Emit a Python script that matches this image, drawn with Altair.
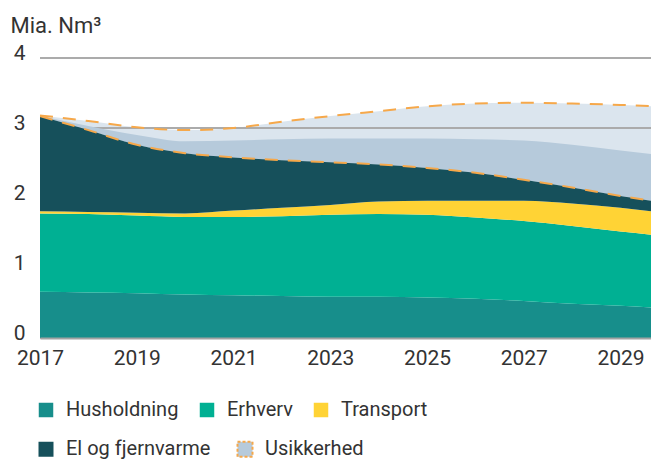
import altair as alt
import pandas as pd

# ---- data (Mia. Nm³) ----
years = list(range(2017, 2031))
husholdning = [0.66, 0.65, 0.64, 0.62, 0.61, 0.60, 0.59, 0.59, 0.58, 0.56, 0.53, 0.49, 0.46, 0.42]
erhverv = [1.12, 1.12, 1.11, 1.11, 1.12, 1.14, 1.17, 1.18, 1.18, 1.16, 1.14, 1.11, 1.06, 1.03]
transport = [0.03, 0.03, 0.04, 0.05, 0.09, 0.12, 0.14, 0.18, 0.20, 0.24, 0.29, 0.32, 0.34, 0.33]
el_fjernvarme = [1.36, 1.17, 0.97, 0.86, 0.76, 0.68, 0.61, 0.53, 0.47, 0.40, 0.30, 0.23, 0.17, 0.14]
# uncertainty band (cumulative levels)
usikkerhed_mid = [3.17, 3.03, 2.90, 2.81, 2.82, 2.84, 2.85, 2.85, 2.85, 2.84, 2.82, 2.76, 2.68, 2.60]
usikkerhed_hoej = [3.18, 3.10, 3.01, 2.97, 3.00, 3.09, 3.17, 3.24, 3.31, 3.35, 3.36, 3.35, 3.33, 3.30]

series = ["Husholdning", "Erhverv", "Transport", "El og fjernvarme"]
series_colors = ["#178e8b", "#00b093", "#ffd335", "#16505b"]
band_names = ["El og fjernvarme", "Usikkerhed", "lys"]
band_colors = ["#16505b", "#b6cadb", "#dbe5ee"]
x_ticks = [2017, 2019, 2021, 2023, 2025, 2027, 2029]
y_ticks = [0, 1, 2, 3, 4]

FONT = "Roboto"
TEXT = "#333333"
ORANGE = "#f6a84a"

# ---- tables ----
rows = []
for i, yr in enumerate(years):
    for k, (name, vals) in enumerate(zip(series, [husholdning, erhverv, transport, el_fjernvarme])):
        rows.append({"year": yr, "serie": name, "value": vals[i], "order": k})
stack_df = pd.DataFrame(rows)

total = [h + e + t + l for h, e, t, l in zip(husholdning, erhverv, transport, el_fjernvarme)]
band_df = pd.DataFrame({"year": years, "low": total, "mid": usikkerhed_mid, "high": usikkerhed_hoej})
line_df = pd.concat([
    pd.DataFrame({"year": years, "lvl": total, "line": "lav"}),
    pd.DataFrame({"year": years, "lvl": usikkerhed_hoej, "line": "hoej"}),
])
grid_df = pd.DataFrame({"v": y_ticks})

x_scale = alt.Scale(domain=[2017, 2029.63], nice=False, zero=False)
y_scale = alt.Scale(domain=[0, 4], nice=False)
x_axis = alt.Axis(values=x_ticks, format="d", grid=False, ticks=False, domain=True,
                  domainColor="#a3a3a3", domainWidth=2, labelFontSize=21, labelFont=FONT,
                  labelColor=TEXT, labelPadding=9, title=None, zindex=1, labelFlush=False)
y_axis = alt.Axis(values=y_ticks, grid=False, ticks=False, domain=False, labelFontSize=21,
                  labelFont=FONT, labelColor=TEXT, labelPadding=15, labelBaseline="alphabetic",
                  labelOffset=1, title="Mia. Nm³", titleAngle=0, titleX=-30, titleY=-26,
                  titleAlign="left", titleBaseline="alphabetic", titleFont=FONT,
                  titleFontSize=22, titleFontWeight="normal", titleColor=TEXT)

X = alt.X("year:Q", scale=x_scale, axis=x_axis)

legend_common = dict(title=None, orient="none", direction="horizontal", symbolType="square",
                     labelFontSize=20, labelFont=FONT, labelColor=TEXT, labelOffset=10,
                     padding=0)

row2_legend = alt.Legend(legendX=-4, legendY=381, values=["El og fjernvarme", "Usikkerhed"],
                         symbolSize=225,
                         symbolStrokeColor=alt.ExprRef(
                             expr="datum.value === 'Usikkerhed' ? '#f6a84a' : 'transparent'"),
                         symbolStrokeWidth=2, symbolDash=[3, 2], columnPadding=22,
                         **legend_common)
fill_scale = alt.Scale(domain=band_names, range=band_colors)

light_band = alt.Chart(band_df).transform_calculate(band="'lys'").mark_area(
    interpolate="monotone", clip=True).encode(
    x=X,
    y=alt.Y("low:Q", scale=y_scale, axis=y_axis),
    y2="high:Q",
    fill=alt.Fill("band:N", scale=fill_scale, legend=row2_legend),
)

grid = alt.Chart(grid_df).mark_rule(color="#ababab", strokeWidth=2).encode(
    y=alt.Y("v:Q", scale=y_scale, axis=y_axis)
)

dark_band = alt.Chart(band_df).transform_calculate(band="'Usikkerhed'").mark_area(
    interpolate="monotone", clip=True).encode(
    x=X,
    y=alt.Y("low:Q", scale=y_scale, axis=y_axis),
    y2="mid:Q",
    fill=alt.Fill("band:N", scale=fill_scale, legend=row2_legend),
)

stacked = alt.Chart(stack_df).mark_area(interpolate="monotone", clip=True).encode(
    x=X,
    y=alt.Y("value:Q", stack="zero", scale=y_scale, axis=y_axis),
    color=alt.Color("serie:N", scale=alt.Scale(domain=series, range=series_colors),
                    legend=alt.Legend(legendX=-4, legendY=342, values=series[:3],
                                      symbolSize=210, symbolStrokeWidth=0, columnPadding=18,
                                      **legend_common)),
    order=alt.Order("order:Q"),
)

dashes = alt.Chart(line_df).mark_line(interpolate="monotone", color=ORANGE, strokeWidth=2,
                                      strokeDash=[13, 10], clip=True).encode(
    x=X,
    y=alt.Y("lvl:Q", scale=y_scale, axis=y_axis),
    detail="line:N",
)

chart = alt.layer(light_band, grid, dark_band, stacked, dashes).properties(
    width=611, height=280,
    padding={"left": 32, "top": 50, "right": 0, "bottom": 125},
    autosize=alt.AutoSizeParams(type="none"),
).configure_view(stroke=None)

chart.save("out.html", embed_options={"renderer": "svg", "actions": False})
